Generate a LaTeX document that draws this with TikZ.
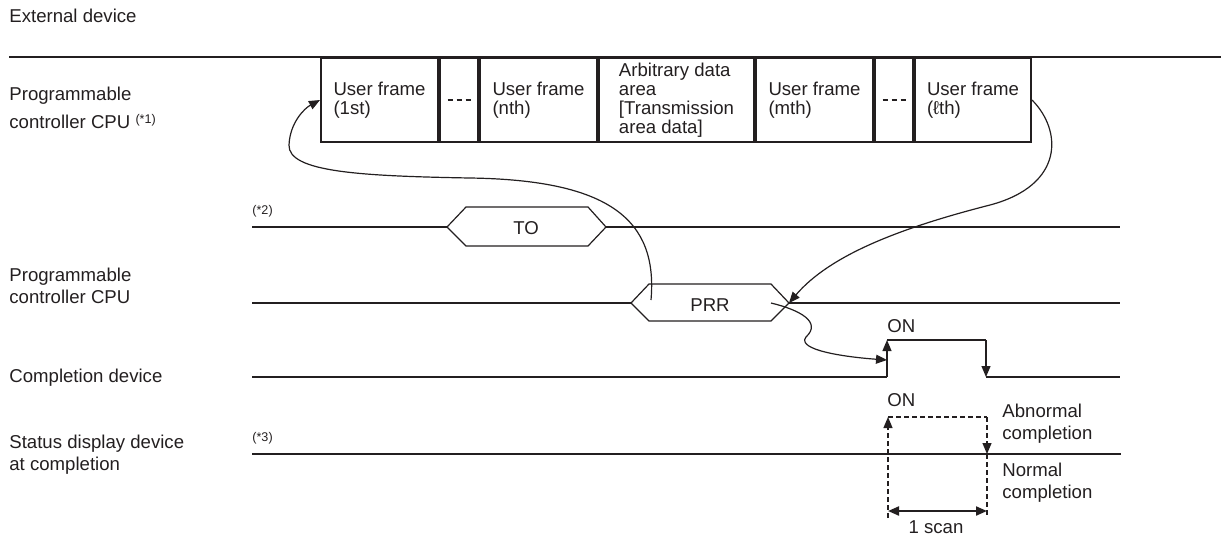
\documentclass[tikz,border=0pt]{standalone}
\usepackage{fontspec}
\setmainfont{Liberation Sans}
\usetikzlibrary{arrows.meta}
\definecolor{Ink}{HTML}{231F20}
\tikzset{
  >={Triangle[length=5.5pt,width=4.5pt]},
  lbl/.style={font=\fontsize{9.3}{11}\selectfont,text=Ink,inner sep=0pt},
  frm/.style={draw=Ink,line width=1pt,minimum height=42pt,inner sep=0pt,align=left,font=\fontsize{9.3}{9.6}\selectfont,text=Ink},
  sig/.style={draw=Ink,line width=1pt},
  lite/.style={draw=Ink,line width=.6pt},
  flow/.style={->,draw=Ink,line width=.6pt},
  note/.style={font=\fontsize{6.3}{7}\selectfont,text=Ink,inner sep=0pt},
  dsh/.style={draw=Ink,line width=.6pt,dash pattern=on 2.5pt off 1.5pt}
}
\begin{document}
\begin{tikzpicture}[x=0.5pt,y=-0.5pt]
\useasboundingbox (0,0) rectangle (1221,538);
% row labels
\node[lbl,anchor=base west] (ext) at (9,22) {External device};
\node[lbl,anchor=north west,align=left] (cpu1) at (9,86.5) {Programmable\\[3pt]controller CPU \raisebox{2.3pt}{\fontsize{6.3}{7}\selectfont(*1)}};
\node[lbl,anchor=north west,align=left] (cpu2) at (9,267.5) {Programmable\\controller CPU};
\node[lbl,anchor=base west] (comp) at (9,382) {Completion device};
\node[lbl,anchor=north west,align=left] (stat) at (9,434.5) {Status display device\\at completion};
\draw[sig] (9,57) -- (1221,57);
% frames
\node[frm,anchor=north west,minimum width=58.5pt] (f1) at (320,57) {User frame\\(1st)};
\node[frm,anchor=north west,minimum width=19pt] (d1) at (f1.north east) {};
\node[frm,anchor=north west,minimum width=58.5pt] (f2) at (d1.north east) {User frame\\(nth)};
\node[frm,anchor=north west,minimum width=77.5pt] (fa) at (f2.north east) {Arbitrary data\\area\\{[}Transmission\\area data{]}};
\node[frm,anchor=north west,minimum width=58.5pt] (f3) at (fa.north east) {User frame\\(mth)};
\node[frm,anchor=north west,minimum width=19pt] (d2) at (f3.north east) {};
\node[frm,anchor=north west,minimum width=58pt] (f4) at (d2.north east) {User frame\\(ℓth)};
\draw[dsh,dash pattern=on 2.5pt off 2pt] ([xshift=-5.75pt]d1.center) -- ([xshift=5.75pt]d1.center);
\draw[dsh,dash pattern=on 2.5pt off 2pt] ([xshift=-5.75pt]d2.center) -- ([xshift=5.75pt]d2.center);
% TO
\node[note,anchor=base west] (n2) at (252,214) {(*2)};
\node[lbl] (to) at (526,228) {TO};
\draw[lite] (252,227) -- (447,227);
\draw[lite] (447,227) -- (466,207) -- (588,207) -- (606,227) -- (588,246) -- (466,246) -- cycle;
\draw[lite] (606,227) -- (1120,227);
% PRR
\node[lbl] (prr) at (710,305) {PRR};
\coordinate (prrA) at (651,300);
\coordinate (prrB) at (789,303);
\coordinate (prrC) at (771,303);
\draw[sig] (252,303) -- (631,303);
\draw[lite] (631,303) -- (649,284) -- (771,284) -- (789,303) -- (771,321) -- (649,321) -- cycle;
\draw[sig] (789,303) -- (1120,303);
% completion device
\coordinate (cmpUp) at (887,360);
\node[lbl,anchor=base west] (on1) at (887,332) {ON};
\draw[lite] (252,377) -- (887,377);
\draw[lite,->] (887,377) -- (887,340);
\draw[lite] (887,340) -- (986,340);
\draw[lite,->] (986,340) -- (986,377);
\draw[lite] (986,377) -- (1120,377);
% status display device
\node[note,anchor=base west] (n3) at (252,441) {(*3)};
\draw[sig] (252,454) -- (1121,454);
\node[lbl,anchor=base west] (on2) at (887,406) {ON};
\draw[dsh,->] (888,518) -- (888,417);
\draw[dsh] (888,417) -- (987,417);
\draw[dsh,->] (987,417) -- (987,454);
\draw[dsh] (987,454) -- (987,518);
\node[lbl,anchor=north west,align=left] (abn) at (1002,403.5) {Abnormal\\completion};
\node[lbl,anchor=north west,align=left] (nrm) at (1002,463) {Normal\\completion};
\draw[sig,<->] (888,511) -- (987,511);
\node[lbl,anchor=base] (scan) at (936,533) {1 scan};
% data flow
\draw[flow] (prrA) .. controls (658,220) and (610,180) .. (470,178) .. controls (360,176) and (288,172) .. (289,145) .. controls (290,122) and (305,108) .. (f1.west);
\draw[flow] (f4.east) .. controls (1062,130) and (1065,185) .. (990,205) .. controls (900,228) and (830,255) .. (prrB);
\draw[flow] (prrC) .. controls (800,310) and (822,322) .. (806,337) .. controls (796,350) and (845,357) .. (cmpUp);
\end{tikzpicture}
\end{document}
